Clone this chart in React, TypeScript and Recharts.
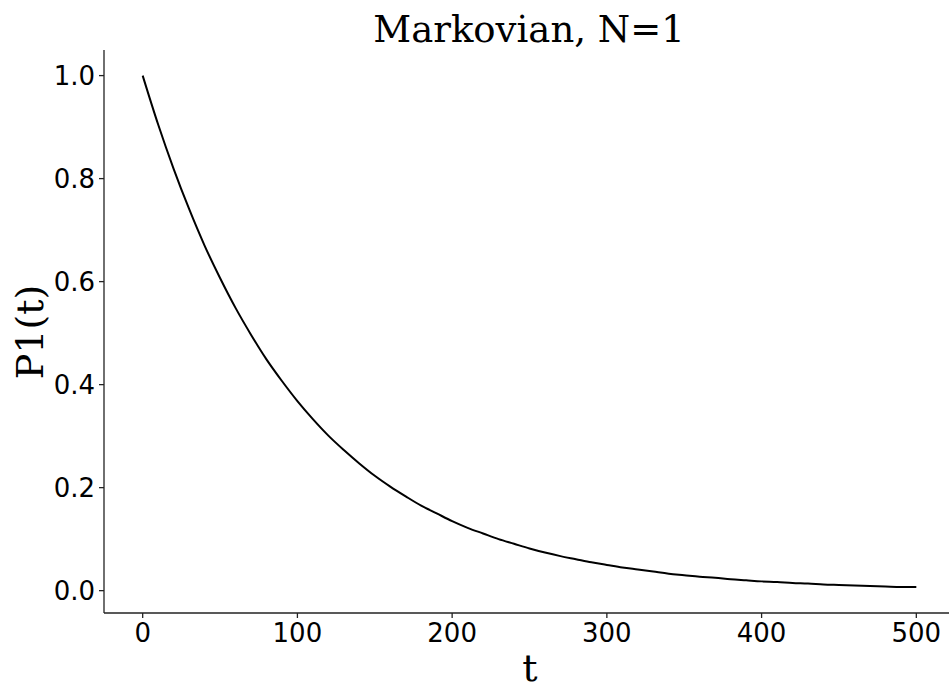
import React from "react";
import { LineChart, Line, XAxis, YAxis } from "recharts";

const tValues = [
  0, 10, 20, 30, 40, 50, 60, 70, 80, 90, 100, 110, 120, 130, 140, 150, 160, 170, 180, 190, 200,
  210, 220, 230, 240, 250, 260, 270, 280, 290, 300, 310, 320, 330, 340, 350, 360, 370, 380, 390, 400,
  410, 420, 430, 440, 450, 460, 470, 480, 490, 500,
];
const p1Values = [
  1.0, 0.905, 0.819, 0.741, 0.67, 0.607, 0.549, 0.497, 0.449, 0.407, 0.368, 0.333, 0.301, 0.273, 0.247,
  0.223, 0.202, 0.183, 0.165, 0.15, 0.135, 0.122, 0.111, 0.1, 0.091, 0.082, 0.074, 0.067, 0.061, 0.055,
  0.05, 0.045, 0.041, 0.037, 0.033, 0.03, 0.027, 0.025, 0.022, 0.02, 0.018, 0.017, 0.015, 0.014, 0.012,
  0.011, 0.01, 0.009, 0.008, 0.007, 0.007,
];
const xTicks = [0, 100, 200, 300, 400, 500];
const yTicks = [0, 0.2, 0.4, 0.6, 0.8, 1.0];
const titleText = "Markovian, N=1";
const xLabelText = "t";
const yLabelText = "P1(t)";

const data = tValues.map((t, i) => ({ t, p: p1Values[i] }));

const W = 960;
const H = 686;
const spine = "#222";
const tickFont = { fontFamily: "DejaVu Sans", fontSize: 26, fill: "#000" };

export default function App() {
  return (
    <div
      style={{
        position: "absolute",
        left: 0,
        top: 0,
        width: 949,
        height: 686,
        overflow: "hidden",
        background: "#fff",
      }}
    >
      <div style={{ position: "relative", width: W, height: H }}>
        <LineChart
          width={W}
          height={H}
          data={data}
          margin={{ top: 50, right: 5, left: 0, bottom: 0 }}
        >
          <XAxis
            xAxisId="main"
            type="number"
            dataKey="t"
            domain={[-25, 525]}
            ticks={xTicks}
            allowDataOverflow
            height={73}
            tickSize={5}
            tickMargin={6}
            tick={tickFont}
            stroke={spine}
            axisLine={{ stroke: spine, strokeWidth: 1.3 }}
            tickLine={{ stroke: spine, strokeWidth: 1.3 }}
          />
          <XAxis
            xAxisId="top"
            orientation="top"
            type="number"
            dataKey="t"
            domain={[-25, 525]}
            allowDataOverflow
            height={0}
            tick={false}
            tickLine={false}
            axisLine={{ stroke: spine, strokeWidth: 1.3 }}
          />
          <YAxis
            type="number"
            domain={[-0.0434, 1.0497]}
            ticks={yTicks}
            allowDataOverflow
            width={104}
            tickSize={5}
            tickMargin={4}
            tick={tickFont}
            tickFormatter={(v: number) => v.toFixed(1)}
            axisLine={{ stroke: spine, strokeWidth: 1.3 }}
            tickLine={{ stroke: spine, strokeWidth: 1.3 }}
          />
          <Line
            xAxisId="main"
            type="monotone"
            dataKey="p"
            stroke="#000"
            strokeWidth={2}
            dot={false}
            isAnimationActive={false}
          />
        </LineChart>
        <svg
          width={W}
          height={H}
          style={{ position: "absolute", left: 0, top: 0, pointerEvents: "none" }}
        >
          <text
            x={529}
            y={42}
            textAnchor="middle"
            fontFamily="DejaVu Serif"
            fontSize={37}
            fill="#000"
          >
            {titleText}
          </text>
          <text
            x={530}
            y={681}
            textAnchor="middle"
            fontFamily="DejaVu Serif"
            fontSize={38}
            fill="#000"
          >
            {xLabelText}
          </text>
          <text
            x={43}
            y={332}
            textAnchor="middle"
            fontFamily="DejaVu Serif"
            fontSize={38}
            fill="#000"
            transform="rotate(-90 43 332)"
          >
            {yLabelText}
          </text>
        </svg>
      </div>
    </div>
  );
}
